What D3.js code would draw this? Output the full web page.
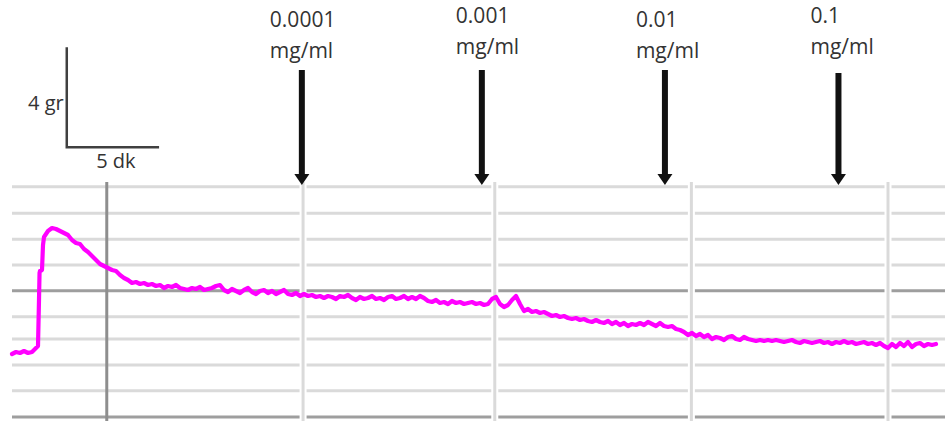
<!DOCTYPE html>
<html><head><meta charset="utf-8">
<script src="https://cdn.jsdelivr.net/npm/d3@7"></script>
<style>body{margin:0;background:#fff}svg{display:block}</style>
</head><body><div id="chart"></div>
<script>
// ---------- DATA ----------
// trace: [time (s), tension (g)]
const trace = [[0,2.52],[13,2.60],[26,2.56],[39,2.64],[52,2.56],[65,2.60],[78,2.76],
[84.5,2.84],[87.75,4.68],[89.5,5.76],[91,5.84],[97.5,5.88],[100.75,6.88],[104,7.20],
[117,7.44],[130,7.56],[143,7.52],[156,7.44],[169,7.36],[182,7.28],[195,7.08],[208,6.96],[221,6.92],[234,6.72],
[247,6.60],[260,6.44],[273,6.28],[286,6.12],[299,6.04],[312,5.96],[325,5.88],[338,5.84],[351,5.68],[364,5.56],
[377,5.48],[390,5.36],[403,5.40],[416,5.32],[429,5.36],[442,5.28],[455,5.32],[468,5.24],[481,5.28],[494,5.16],
[507,5.24],[520,5.20],[533,5.28],[546,5.16],[559,5.12],[572,5.08],[585,5.16],[598,5.12],[611,5.20],[624,5.08],
[637,5.12],[650,5.16],[663,5.24],[676,5.28],[689,5.08],[702,5.00],[715,5.12],[728,5.04],[741,4.96],[754,5.08],
[767,5.16],[780,5.00],[793,4.92],[806,5.04],[819,5.08],[832,4.96],[845,5.04],[858,4.92],[871,5.00],[884,5.08],
[897,4.92],[910,4.88],[923,4.96],[936,4.84],[949,4.92],[962,4.84],[975,4.88],[988,4.80],[1001,4.84],[1014,4.76],
[1027,4.84],[1040,4.80],[1053,4.72],[1066,4.84],[1079,4.80],[1092,4.88],[1105,4.76],[1118,4.68],[1131,4.80],[1144,4.72],
[1157,4.76],[1170,4.84],[1183,4.72],[1196,4.76],[1209,4.68],[1222,4.80],[1235,4.84],[1248,4.72],[1261,4.76],[1274,4.84],
[1287,4.72],[1300,4.80],[1313,4.72],[1326,4.84],[1339,4.76],[1352,4.64],[1365,4.60],[1378,4.68],[1391,4.56],[1404,4.60],
[1417,4.52],[1430,4.64],[1443,4.56],[1456,4.60],[1469,4.52],[1482,4.56],[1495,4.60],[1508,4.52],[1521,4.56],[1534,4.48],
[1547,4.52],[1560,4.72],[1573,4.80],[1586,4.52],[1599,4.40],[1612,4.48],[1625,4.68],[1638,4.84],[1651,4.52],[1664,4.24],
[1677,4.32],[1690,4.20],[1703,4.24],[1716,4.16],[1729,4.20],[1742,4.12],[1755,4.04],[1768,4.08],[1781,4.00],[1794,4.04],
[1807,3.96],[1820,3.92],[1833,3.96],[1846,3.88],[1859,3.92],[1872,3.84],[1885,3.80],[1898,3.88],[1911,3.80],[1924,3.76],
[1937,3.84],[1950,3.72],[1963,3.80],[1976,3.68],[1989,3.76],[2002,3.64],[2015,3.72],[2028,3.68],[2041,3.76],[2054,3.68],
[2067,3.80],[2080,3.72],[2093,3.64],[2106,3.76],[2119,3.64],[2132,3.60],[2145,3.64],[2158,3.52],[2171,3.48],[2184,3.40],
[2197,3.28],[2210,3.36],[2223,3.24],[2236,3.32],[2249,3.20],[2262,3.28],[2275,3.12],[2288,3.20],[2301,3.16],[2314,3.08],
[2327,3.20],[2340,3.24],[2353,3.12],[2366,3.08],[2379,3.20],[2392,3.12],[2405,3.08],[2418,3.04],[2431,3.08],[2444,3.04],
[2457,3.08],[2470,3.04],[2483,3.08],[2496,3.04],[2509,3.00],[2522,3.04],[2535,3.08],[2548,3.00],[2561,2.96],[2574,3.04],
[2587,3.00],[2600,2.96],[2613,3.00],[2626,3.04],[2639,2.96],[2652,3.00],[2665,2.92],[2678,3.00],[2691,2.96],[2704,3.04],
[2717,2.96],[2730,3.00],[2743,2.92],[2756,2.96],[2769,3.00],[2782,2.92],[2795,2.96],[2808,2.88],[2821,2.96],[2834,2.84],
[2847,2.76],[2860,2.92],[2873,2.80],[2886,2.96],[2899,2.84],[2912,3.00],[2925,2.80],[2938,2.92],[2951,2.96],[2964,2.84],
[2977,2.92],[2990,2.88],[3003,2.92]];

const doseLabels = ["0.0001", "0.001", "0.01", "0.1"];
const doseUnit = "mg/ml";
const doseTimes = [942, 1527, 2122, 2686];          // s, arrow positions

const hGridValues = [0, 1.05, 2.08, 3.12, 4.01, 5.05, 6.08, 7.11, 8.15, 9.21]; // g
const hGridMajor  = [0, 5.05];
const vGridMajor  = [308];                         // s
const vGridMinor  = [946, 1569, 2208, 2847];       // s

const scaleBar = {t0: 178, g0: 10.79, dt: 300, dg: 4, tLabel: "5 dk", gLabel: "4 gr"};

// ---------- LAYOUT ----------
const W = 945, H = 423;
const gridLeft = 12, gridRight = 945, gridTop = 182, gridBottom = 421;
const arrowTops = [70, 70, 70, 73];
const labelDx = [-32, -26, -29, -28];
const labelBase = [27, 23, 27, 23];
const lineGap = 30.5;

const x = d3.scaleLinear().domain([0, 3003]).range([12, 936]);
const y = d3.scaleLinear().domain([0, 10]).range([417, 167]);

const svg = d3.select("#chart").append("svg").attr("width", W).attr("height", H);

// horizontal grid
svg.append("g").selectAll("line").data(hGridValues).join("line")
  .attr("x1", gridLeft).attr("x2", gridRight)
  .attr("y1", d => y(d)).attr("y2", d => y(d))
  .attr("stroke", d => hGridMajor.includes(d) ? "#9e9e9e" : "#dadada")
  .attr("stroke-width", 3);

// minor vertical grid with white halo
const vm = svg.append("g");
vm.selectAll("line.halo").data(vGridMinor).join("line").attr("class","halo")
  .attr("x1", d => x(d)).attr("x2", d => x(d)).attr("y1", gridTop).attr("y2", gridBottom)
  .attr("stroke", "#fff").attr("stroke-width", 7);
vm.selectAll("line.v").data(vGridMinor).join("line").attr("class","v")
  .attr("x1", d => x(d)).attr("x2", d => x(d)).attr("y1", gridTop).attr("y2", gridBottom)
  .attr("stroke", "#dadada").attr("stroke-width", 3);

// major vertical
svg.append("g").selectAll("line").data(vGridMajor).join("line")
  .attr("x1", d => x(d)).attr("x2", d => x(d)).attr("y1", gridTop).attr("y2", gridBottom)
  .attr("stroke", "#8e8e8e").attr("stroke-width", 3);

// trace
const line = d3.line().x(d => x(d[0])).y(d => y(d[1]));
svg.append("path").datum(trace).attr("d", line)
  .attr("fill", "none").attr("stroke", "#ff00ff").attr("stroke-width", 4.2)
  .attr("stroke-linejoin", "round").attr("stroke-linecap", "round");

// arrows + labels
const ag = svg.append("g");
doseTimes.forEach((t, i) => {
  const cx = x(t), top = arrowTops[i], tip = 185;
  ag.append("line").attr("x1", cx).attr("x2", cx).attr("y1", top).attr("y2", tip - 10)
    .attr("stroke", "#111").attr("stroke-width", 6);
  ag.append("path").attr("d", `M${cx-7.5},${tip-11}L${cx+7.5},${tip-11}L${cx},${tip}Z`).attr("fill", "#111");
  const tx = ag.append("text").attr("x", cx + labelDx[i]).attr("y", labelBase[i])
    .attr("font-family", "'Open Sans', sans-serif").attr("font-size", 21).attr("fill", "#333");
  tx.append("tspan").attr("x", cx + labelDx[i]).text(doseLabels[i]);
  tx.append("tspan").attr("x", cx + labelDx[i]).attr("dy", lineGap).text(doseUnit);
});

// scale bar
const sb = svg.append("g").attr("stroke", "#404040").attr("stroke-width", 2.5).attr("fill", "none");
sb.append("path").attr("d",
  `M${x(scaleBar.t0)},${y(scaleBar.g0 + scaleBar.dg)}L${x(scaleBar.t0)},${y(scaleBar.g0)}L${x(scaleBar.t0 + scaleBar.dt)},${y(scaleBar.g0)}`);
svg.append("text").attr("x", x(scaleBar.t0) - 3).attr("y", 110).attr("text-anchor", "end")
  .attr("font-family", "'Open Sans', sans-serif").attr("font-size", 20).attr("fill", "#333").text(scaleBar.gLabel);
svg.append("text").attr("x", x(scaleBar.t0 + scaleBar.dt / 2) + 3).attr("y", 168).attr("text-anchor", "middle")
  .attr("font-family", "'Open Sans', sans-serif").attr("font-size", 20).attr("fill", "#333").text(scaleBar.tLabel);
</script></body></html>
